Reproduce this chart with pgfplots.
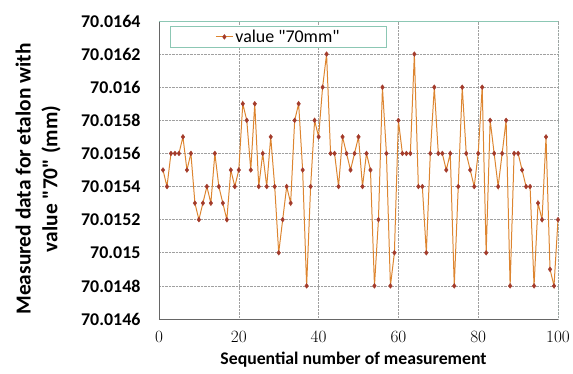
\documentclass[border=0pt]{standalone}
\usepackage{fontspec}
\setmainfont{Carlito}
\usepackage{pgfplots}
\pgfplotsset{compat=1.18}
\definecolor{lineor}{HTML}{DD8530}
\definecolor{markred}{HTML}{A33B2B}
\definecolor{frameteal}{HTML}{8CC7B4}
\definecolor{gridgray}{HTML}{A0A0A0}
\begin{document}
\begin{tikzpicture}
\begin{axis}[
  scale only axis,
  width=399bp, height=298bp,
  xmin=0, xmax=100,
  ymin=70.0146, ymax=70.0164,
  y coord trafo/.code={\edef\pgfmathresult{\fpeval{(#1-70)*10000}}},
  y coord inv trafo/.code={\edef\pgfmathresult{\fpeval{#1/10000+70}}},
  xtick={0,20,40,60,80,100},
  ytick={70.0146,70.0148,70.015,70.0152,70.0154,70.0156,70.0158,70.016,70.0162,70.0164},
  yticklabels={70.0146,70.0148,70.015,70.0152,70.0154,70.0156,70.0158,70.016,70.0162,70.0164},
  major tick length=0pt,
  xmajorgrids, ymajorgrids,
  grid style={gridgray, densely dotted, line width=0.6pt},
  axis line style={draw=none},
  tick label style={font=\fontsize{18}{18}\selectfont\bfseries},
  yticklabel style={xshift=-15bp},
  xticklabel style={yshift=-9bp},
  xlabel={Sequential number of measurement},
  xlabel style={font=\fontsize{17.8}{17.8}\selectfont\bfseries, at={(axis description cs:0.5,0)}, anchor=center, yshift=-41bp, xshift=-5bp},
  ylabel={Measured data for etalon with\\value \textquotedbl 70\textquotedbl\ (mm)},
  ylabel style={font=\fontsize{21.5}{27}\selectfont\bfseries, align=center, at={(axis description cs:-0.303,0.47)}, anchor=center},
  legend style={at={(axis description cs:0.0276,0.983)}, anchor=north west, draw=frameteal, line width=0.8pt, inner xsep=45bp, inner ysep=1.5bp, font=\fontsize{18}{18}\selectfont, fill=white},
  legend cell align=left,
]
\addplot[lineor, line width=1pt, mark=diamond*, mark size=2.4bp, mark options={markred, fill=markred, line width=0.4pt}] table[x=n, y=v] {
n v
1 70.0155
2 70.0154
3 70.0156
4 70.0156
5 70.0156
6 70.0157
7 70.0155
8 70.0156
9 70.0153
10 70.0152
11 70.0153
12 70.0154
13 70.0153
14 70.0156
15 70.0154
16 70.0153
17 70.0152
18 70.0155
19 70.0154
20 70.0155
21 70.0159
22 70.0158
23 70.0155
24 70.0159
25 70.0154
26 70.0156
27 70.0154
28 70.0157
29 70.0154
30 70.015
31 70.0152
32 70.0154
33 70.0153
34 70.0158
35 70.0159
36 70.0155
37 70.0148
38 70.0154
39 70.0158
40 70.0157
41 70.016
42 70.0162
43 70.0156
44 70.0156
45 70.0154
46 70.0157
47 70.0156
48 70.0155
49 70.0156
50 70.0157
51 70.0154
52 70.0156
53 70.0155
54 70.0148
55 70.0152
56 70.016
57 70.0156
58 70.0148
59 70.015
60 70.0158
61 70.0156
62 70.0156
63 70.0156
64 70.0162
65 70.0154
66 70.0154
67 70.015
68 70.0156
69 70.016
70 70.0156
71 70.0156
72 70.0155
73 70.0156
74 70.0148
75 70.0154
76 70.016
77 70.0156
78 70.0155
79 70.0154
80 70.0156
81 70.016
82 70.015
83 70.0158
84 70.0156
85 70.0154
86 70.0156
87 70.0158
88 70.0148
89 70.0156
90 70.0156
91 70.0155
92 70.0154
93 70.0154
94 70.0148
95 70.0153
96 70.0152
97 70.0157
98 70.0149
99 70.0148
100 70.0152
};
\addlegendentry{value \textquotedbl 70mm\textquotedbl}
\draw[gray!80!black, line width=0.9pt] (rel axis cs:0,1) -- (rel axis cs:0,0) -- (rel axis cs:1,0);
\draw[frameteal, line width=0.9pt] (rel axis cs:0,1) -- (rel axis cs:1,1) -- (rel axis cs:1,0);
\coordinate (ll) at (rel axis cs:0,0);
\coordinate (ur) at (rel axis cs:1,1);
\end{axis}
\pgfresetboundingbox
\path[use as bounding box] ([shift={(-159bp,-55bp)}]ll) rectangle ([shift={(15bp,21bp)}]ur);
\end{tikzpicture}
\end{document}
